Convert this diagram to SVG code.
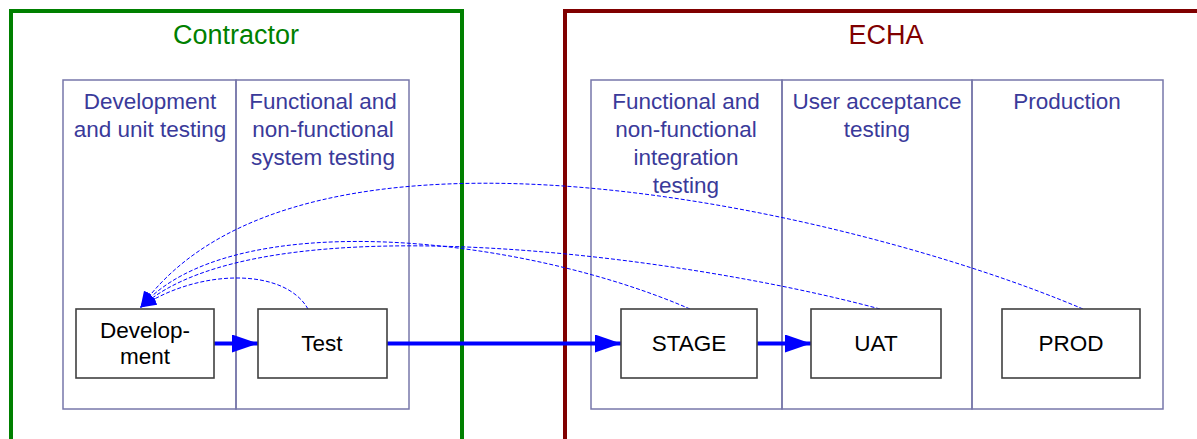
<svg xmlns="http://www.w3.org/2000/svg" width="1197" height="439" viewBox="0 0 1197 439">
<style>
.frame{fill:none;stroke-width:4}
.lane{fill:none;stroke:#7777aa;stroke-width:1.5}
.lt{font-family:"Liberation Sans",Arial,sans-serif;font-size:22.5px;fill:#3a3a9a;text-anchor:middle}
.ft{font-family:"Liberation Sans",Arial,sans-serif;font-size:27px;text-anchor:middle}
.box{fill:#fff;stroke:#404040;stroke-width:1.6}
.bt{font-family:"Liberation Sans",Arial,sans-serif;font-size:22.5px;fill:#000;text-anchor:middle}
.solid{fill:none;stroke:#0000ff;stroke-width:4}
.dash{fill:none;stroke:#0000ff;stroke-width:1;stroke-dasharray:4 2}
</style>
<defs>
<marker id="big" markerUnits="userSpaceOnUse" markerWidth="26" markerHeight="18" refX="26" refY="9" orient="auto">
<path d="M0,0 L26,9 L0,18 Z" fill="#0000ff"/>
</marker>
<marker id="small" markerUnits="userSpaceOnUse" markerWidth="16" markerHeight="14" refX="15" refY="7" orient="auto">
<path d="M0,0 L16,7 L0,14 Z" fill="#0000ff"/>
</marker>
</defs>
<rect width="1197" height="439" fill="#fff"/>
<g id="contractor">
<path class="frame" stroke="#008000" d="M11,445 V11 H462 V445"/>
<text class="ft" fill="#008000" x="236" y="44">Contractor</text>
</g>
<g id="echa">
<path class="frame" stroke="#800000" d="M565,445 V11 H1205"/>
<text class="ft" fill="#800000" x="886" y="44">ECHA</text>
</g>
<g id="lane-dev">
<rect class="lane" x="63" y="80" width="173" height="329"/>
<text class="lt" x="150" y="109">Development</text>
<text class="lt" x="150" y="137">and unit testing</text>
</g>
<g id="lane-sys">
<rect class="lane" x="236" y="80" width="173" height="329"/>
<text class="lt" x="323" y="109">Functional and</text>
<text class="lt" x="323" y="137">non-functional</text>
<text class="lt" x="323" y="165">system testing</text>
</g>
<g id="lane-int">
<rect class="lane" x="591" y="80" width="191" height="329"/>
<text class="lt" x="686" y="109">Functional and</text>
<text class="lt" x="686" y="137">non-functional</text>
<text class="lt" x="686" y="165">integration</text>
<text class="lt" x="686" y="193">testing</text>
</g>
<g id="lane-uat">
<rect class="lane" x="782" y="80" width="190" height="329"/>
<text class="lt" x="877" y="109">User acceptance</text>
<text class="lt" x="877" y="137">testing</text>
</g>
<g id="lane-prod">
<rect class="lane" x="972" y="80" width="191" height="329"/>
<text class="lt" x="1067" y="109">Production</text>
</g>
<g id="connectors">
<path class="dash" marker-end="url(#small)" d="M308,309 C285,268 200,268 141,307"/>
<path class="dash" marker-end="url(#small)" d="M690,309 C520,235 230,205 141,307"/>
<path class="dash" marker-end="url(#small)" d="M880,309 C680,255 260,200 141,307"/>
<path class="dash" marker-end="url(#small)" d="M1083,309 C850,210 300,85 141,307"/>
<path class="solid" marker-end="url(#big)" d="M214,343.5 H258"/>
<path class="solid" marker-end="url(#big)" d="M387,343.5 H621"/>
<path class="solid" marker-end="url(#big)" d="M757,343.5 H811"/>
</g>
<g id="node-dev">
<rect class="box" x="76" y="309" width="138" height="69"/>
<text class="bt" x="145" y="338">Develop-</text>
<text class="bt" x="145" y="364">ment</text>
</g>
<g id="node-test">
<rect class="box" x="258" y="309" width="129" height="69"/>
<text class="bt" x="322" y="351">Test</text>
</g>
<g id="node-stage">
<rect class="box" x="621" y="309" width="136" height="69"/>
<text class="bt" x="689" y="351">STAGE</text>
</g>
<g id="node-uat">
<rect class="box" x="811" y="309" width="130" height="69"/>
<text class="bt" x="876" y="351">UAT</text>
</g>
<g id="node-prod">
<rect class="box" x="1002" y="309" width="138" height="69"/>
<text class="bt" x="1071" y="351">PROD</text>
</g>
</svg>
